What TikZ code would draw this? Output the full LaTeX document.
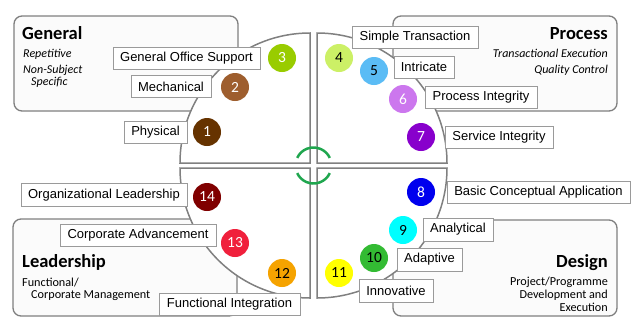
\documentclass[tikz,border=0pt]{standalone}
\usepackage{fontspec}
\setmainfont{Carlito}
\newfontfamily\labfont{Liberation Sans}
\definecolor{boxgray}{HTML}{7F7F7F}
\definecolor{quadgray}{HTML}{808080}
\definecolor{labgray}{HTML}{9A9A9A}
\definecolor{arcgreen}{HTML}{1FA64E}
\definecolor{cA}{HTML}{663300}
\definecolor{cB}{HTML}{9E5E2E}
\definecolor{cC}{HTML}{99CC00}
\definecolor{cD}{HTML}{CCF066}
\definecolor{cE}{HTML}{5BBCF5}
\definecolor{cF}{HTML}{CC77EE}
\definecolor{cG}{HTML}{8800CC}
\definecolor{cH}{HTML}{0000EE}
\definecolor{cI}{HTML}{00FFFF}
\definecolor{cJ}{HTML}{33BB33}
\definecolor{cK}{HTML}{FFFF00}
\definecolor{cL}{HTML}{F5A300}
\definecolor{cM}{HTML}{F0203C}
\definecolor{cN}{HTML}{800000}
\begin{document}
\begin{tikzpicture}[x=1pt,y=-1pt,
  catbox/.style={draw=boxgray, line width=1.3pt, fill=gray!3, rounded corners=8pt},
  quad/.style={draw=quadgray, line width=1.5pt, fill=white},
  greenarc/.style={draw=arcgreen, line width=2.5pt},
  lab/.style={draw=labgray, line width=1pt, fill=white, font=\labfont\fontsize{13}{15}\selectfont, minimum height=22pt, inner sep=0pt},
  num/.style={circle, minimum size=28pt, inner sep=0pt, font=\fontsize{15.5}{17}\selectfont},
  head/.style={font=\bfseries\fontsize{18.5}{20}\selectfont, inner sep=0pt},
  subit/.style={font=\itshape\fontsize{12}{13}\selectfont, inner sep=0pt},
  subrm/.style={font=\fontsize{12.2}{13}\selectfont, inner sep=0pt}]
\useasboundingbox (0,0) rectangle (635,333);
% category boxes
\draw[catbox] (14,16) rectangle (238,111);
\draw[catbox] (393,16) rectangle (617,111);
\draw[catbox] (13,219) rectangle (237,316);
\draw[catbox] (393,220) rectangle (617,316);
% headings
\node[head, anchor=base west] (hgen) at (22,39) {General};
\node[subit, anchor=base west] (sg1) at (23,57) {Repetitive};
\node[subit, anchor=base west] (sg2) at (23,73) {Non-Subject};
\node[subit, anchor=base west] (sg3) at (31,85) {Specific};
\node[head, anchor=base east] (hpro) at (608,39) {Process};
\node[subit, anchor=base east] (sp1) at (608,57) {Transactional Execution};
\node[subit, anchor=base east] (sp2) at (608,73) {Quality Control};
\node[head, anchor=base west] (hlea) at (22,267) {Leadership};
\node[subrm, anchor=base west] (sl1) at (22,286) {Functional/};
\node[subrm, anchor=base west] (sl2) at (31,298) {Corporate Management};
\node[head, anchor=base east] (hdes) at (608,267) {Design};
\node[subrm, anchor=base east] (sd1) at (608,285) {Project/Programme};
\node[subrm, anchor=base east] (sd2) at (608,298) {Development and};
\node[subrm, anchor=base east] (sd3) at (608,311) {Execution};
% quadrants
\draw[quad] (310,163) -- (310,33) arc[start angle=270, end angle=180, radius=130] -- cycle;
\draw[quad] (317,163) -- (317,33) arc[start angle=270, end angle=360, radius=130] -- cycle;
\draw[quad] (310,168) -- (180,168) arc[start angle=180, end angle=90, radius=130] -- cycle;
\draw[quad] (317,168) -- (447,168) arc[start angle=0, end angle=90, radius=130] -- cycle;
% green arcs
\coordinate (ctr) at (313.5,165.5);
\draw[greenarc] (ctr) ++(205:18) arc[start angle=205, end angle=335, radius=18];
\draw[greenarc] (ctr) ++(25:18) arc[start angle=25, end angle=155, radius=18];
% labels
\node[lab, minimum width=147pt] (l3) at (186.5,58) {General Office Support};
\node[lab, minimum width=80pt] (l2) at (171,86.5) {Mechanical};
\node[lab, minimum width=63pt] (l1) at (155.5,132) {Physical};
\node[lab, minimum width=126pt] (l4) at (415,37) {Simple Transaction};
\node[lab, minimum width=60pt] (l5) at (424,67) {Intricate};
\node[lab, minimum width=112pt] (l6) at (481,97.5) {Process Integrity};
\node[lab, minimum width=108pt] (l7) at (499,137) {Service Integrity};
\node[lab, minimum width=166pt, minimum height=23pt] (l14) at (104,195) {Organizational Leadership};
\node[lab, minimum width=156pt] (l13) at (138,235) {Corporate Advancement};
\node[lab, minimum width=141pt] (l12) at (229.5,304) {Functional Integration};
\node[lab, minimum width=183pt] (l8) at (538.5,192) {Basic Conceptual Application};
\node[lab, minimum width=70pt, minimum height=23pt] (l9) at (458,229.5) {Analytical};
\node[lab, minimum width=65pt, minimum height=23pt] (l10) at (429.5,259.5) {Adaptive};
\node[lab, minimum width=74pt, minimum height=23pt] (l11) at (396,290.5) {Innovative};
% numbered circles
\node[num, fill=cA, text=white] (n1) at (207,132) {1};
\node[num, fill=cB, text=white] (n2) at (235,87) {2};
\node[num, fill=cC, text=white] (n3) at (282,58) {3};
\node[num, fill=cD, text=black] (n4) at (339,58) {4};
\node[num, fill=cE, text=black] (n5) at (374,71) {5};
\node[num, fill=cF, text=white] (n6) at (403,99) {6};
\node[num, fill=cG, text=white] (n7) at (421,137) {7};
\node[num, fill=cH, text=white] (n8) at (421,192) {8};
\node[num, fill=cI, text=black] (n9) at (403,230) {9};
\node[num, fill=cJ, text=black] (n10) at (374,258) {10};
\node[num, fill=cK, text=black] (n11) at (339,273) {11};
\node[num, fill=cL, text=black] (n12) at (282,273) {12};
\node[num, fill=cM, text=white] (n13) at (235,243) {13};
\node[num, fill=cN, text=white] (n14) at (207,197) {14};
\end{tikzpicture}
\end{document}
